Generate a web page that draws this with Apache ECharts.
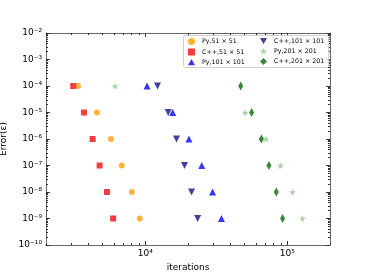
<!DOCTYPE html>
<html><head><meta charset="utf-8">
<script src="https://cdn.jsdelivr.net/npm/echarts@6/dist/echarts.min.js"></script>
<style>html,body{margin:0;padding:0;background:#fff}#c{width:368px;height:276px}</style>
</head><body><div id="c"></div>
<script>
// ---- data ----
const errors = [1e-4, 1e-5, 1e-6, 1e-7, 1e-8, 1e-9];
const seriesNames = ['Py,51 × 51', 'C++,51 × 51', 'Py,101 × 101', 'C++,101 × 101', 'Py,201 × 201', 'C++,201 × 201'];
const py51   = [3360, 4570, 5730, 6840, 8040, 9150];
const cpp51  = [3110, 3700, 4260, 4770, 5370, 5940];
const py101  = [10300, 15600, 20300, 25000, 29800, 34400];
const cpp101 = [12200, 14500, 16600, 18900, 21200, 23400];
const py201  = [6140, 50500, 70800, 89800, 108900, 128000];
const cpp201 = [47000, 56100, 65700, 74300, 83700, 92700];
const xMajorTicks = [1e4, 1e5];
const yMajorTicks = [1e-10, 1e-9, 1e-8, 1e-7, 1e-6, 1e-5, 1e-4, 1e-3, 1e-2];

const xMinorTicks = [];
[1e3, 1e4, 1e5].forEach(d => { for (let m = 2; m <= 9; m++) { const v = m * d; if (v >= 2000 && v <= 200000) xMinorTicks.push(v); } });
const yMinorTicks = [];
for (let e = -10; e < -2; e++) { for (let m = 2; m <= 9; m++) yMinorTicks.push(m * Math.pow(10, e)); }

const supMap = {'-':'⁻','0':'⁰','1':'¹','2':'²','3':'³','4':'⁴','5':'⁵','6':'⁶','7':'⁷','8':'⁸','9':'⁹'};
function pow10Label(v) {
  const e = Math.round(Math.log10(v));
  return '10' + String(e).split('').map(c => supMap[c]).join('');
}

const FONT = 'DejaVu Sans';
const lineColor = '#666';
const tickColor = '#333';

function xAxisDef(pos, major, showLabel, showLine) {
  return {
    type: 'log', logBase: 10, min: 2000, max: 200000, position: pos,
    axisLine: { show: showLine, onZero: false, lineStyle: { color: lineColor, width: 1 } },
    axisTick: { show: true, inside: true, length: major ? 4 : 2, customValues: major ? xMajorTicks : xMinorTicks, lineStyle: { color: tickColor, width: 1 } },
    axisLabel: showLabel ? { show: true, customValues: xMajorTicks, formatter: pow10Label, color: '#000', fontFamily: FONT, fontSize: 9, margin: 4 } : { show: false },
    splitLine: { show: false },
    minorTick: { show: false },
    name: showLabel ? 'iterations' : '',
    nameLocation: 'middle', nameGap: 17,
    nameTextStyle: { color: '#000', fontFamily: FONT, fontSize: 9 }
  };
}
function yAxisDef(pos, major, showLabel, showLine) {
  return {
    type: 'log', logBase: 10, min: 1e-10, max: 1e-2, position: pos,
    axisLine: { show: showLine, onZero: false, lineStyle: { color: lineColor, width: 1 } },
    axisTick: { show: true, inside: true, length: major ? 4 : 2, customValues: major ? yMajorTicks : yMinorTicks, lineStyle: { color: tickColor, width: 1 } },
    axisLabel: showLabel ? { show: true, customValues: yMajorTicks, formatter: pow10Label, color: '#000', fontFamily: FONT, fontSize: 9, margin: 4 } : { show: false },
    splitLine: { show: false },
    minorTick: { show: false },
    name: showLabel ? 'Error(ε)' : '',
    nameLocation: 'middle', nameGap: 30,
    nameTextStyle: { color: '#000', fontFamily: FONT, fontSize: 9 }
  };
}

const starPath = 'path://M50,0 L61,35 L98,35 L68,57 L79,91 L50,70 L21,91 L32,57 L2,35 L39,35 Z';
const downTri = 'path://M0,0 L10,0 L5,9 Z';
const upTri = 'path://M5,0 L10,9 L0,9 Z';

const styles = [
  { data: py51, symbol: 'circle', size: 6, color: '#ffaa22' },
  { data: cpp51, symbol: 'rect', size: 6, color: '#f02828' },
  { data: py101, symbol: upTri, size: [7, 7], color: '#1f1fff' },
  { data: cpp101, symbol: downTri, size: [7, 7], color: '#2b2b96' },
  { data: py201, symbol: starPath, size: 7, color: '#9ccc9c' },
  { data: cpp201, symbol: 'diamond', size: [5, 9], color: '#237a23' }
];

const series = styles.map((s, i) => ({
  name: seriesNames[i], type: 'scatter', xAxisIndex: 0, yAxisIndex: 0,
  symbol: s.symbol, symbolSize: s.size,
  itemStyle: { color: s.color, opacity: 0.9 },
  data: s.data.map((x, j) => [x, errors[j]])
}));

const legendCommon = {
  orient: 'vertical', itemWidth: 7, itemHeight: 7, itemGap: 3.5,
  textStyle: { fontFamily: FONT, fontSize: 6.3, color: '#000', padding: [0, 0, 0, 2] },
  padding: 0
};

const chart = echarts.init(document.getElementById('c'), null, { renderer: 'canvas' });
chart.setOption({
  animation: false,
  backgroundColor: '#fff',
  grid: { left: 46, right: 38, top: 33, bottom: 31, containLabel: false, outerBoundsMode: 'none' },
  xAxis: [xAxisDef('bottom', true, true, true), xAxisDef('bottom', false, false, false), xAxisDef('top', true, false, true), xAxisDef('top', false, false, false)],
  yAxis: [yAxisDef('left', true, true, true), yAxisDef('left', false, false, false), yAxisDef('right', true, false, true), yAxisDef('right', false, false, false)],
  legend: [
    Object.assign({}, legendCommon, { left: 188, top: 38, data: seriesNames.slice(0, 3) }),
    Object.assign({}, legendCommon, { left: 260, top: 38, data: seriesNames.slice(3) })
  ],
  graphic: [{ type: 'rect', left: 183, top: 35, shape: { width: 145, height: 32, r: 2 }, style: { fill: 'rgba(255,255,255,0.8)', stroke: '#d0d0d0', lineWidth: 1 }, z: 1 }],
  series: series
});
</script></body></html>
